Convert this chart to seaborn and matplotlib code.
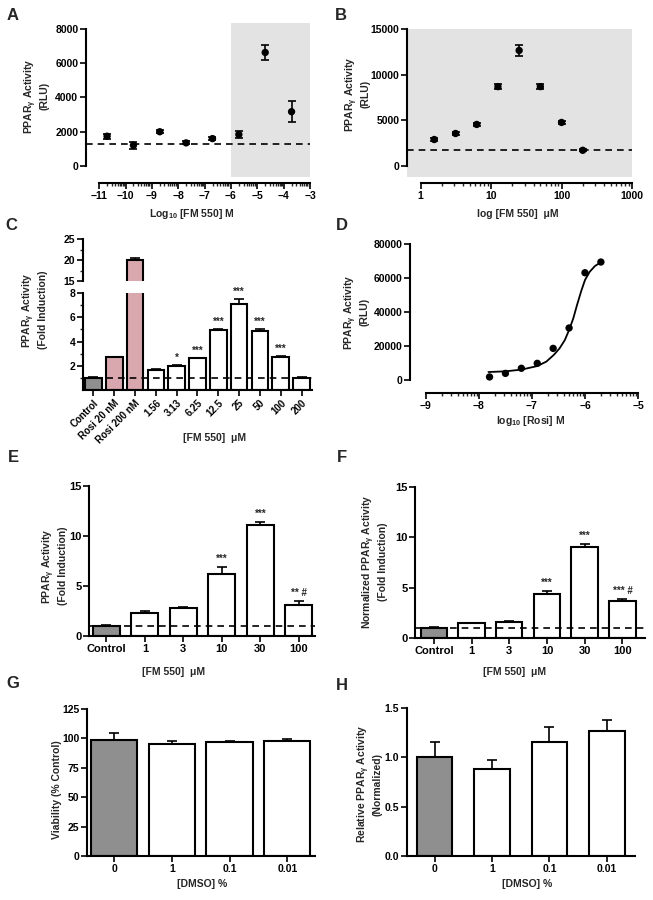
import numpy as np
import matplotlib
matplotlib.use('Agg')
import matplotlib.pyplot as plt
import seaborn as sns
from matplotlib.ticker import FixedLocator, NullFormatter

# ---- data ----
# A: log10 [FM 550] M vs RLU
a_logx = [-10.7, -9.7, -8.7, -7.7, -6.7, -5.7, -4.7, -3.7]
a_rlu = [1740, 1210, 2000, 1350, 1600, 1840, 6630, 3170]
a_err = [150, 220, 80, 90, 90, 200, 450, 600]
a_base = 1270

# B: [FM 550] uM (log axis) vs RLU
b_conc = [1.56, 3.13, 6.25, 12.5, 25, 50, 100, 200]
b_rlu = [2900, 3560, 4550, 8690, 12650, 8690, 4770, 1720]
b_err = [120, 120, 150, 300, 650, 250, 150, 120]
b_base = 1720

# C: fold induction, broken axis
c_cats = ["Control", "Rosi 20 nM", "Rosi 200 nM", "1.56", "3.13", "6.25",
          "12.5", "25", "50", "100", "200"]
c_vals = [1.0, 2.7, 20.0, 1.65, 2.0, 2.62, 4.95, 7.1, 4.9, 2.75, 1.0]
c_err = [0.05, 0.06, 0.5, 0.06, 0.05, 0.06, 0.12, 0.4, 0.12, 0.08, 0.04]
c_sig = ["", "", "", "", "*", "***", "***", "***", "***", "***", ""]

# D: rosiglitazone dose response
d_logx = [-7.8, -7.5, -7.2, -6.9, -6.6, -6.3, -6.0, -5.7]
d_rlu = [1800, 3900, 6900, 9800, 18600, 30600, 63100, 69400]
d_fit_x = [-7.82, -7.5, -7.2, -6.9, -6.73, -6.59, -6.48, -6.38, -6.3,
           -6.22, -6.15, -6.07, -6.0, -5.91, -5.81, -5.69]
d_fit_y = [4700, 5100, 6100, 8200, 10800, 14700, 18600, 23500, 29400,
           36300, 44100, 52400, 58800, 63700, 67100, 69400]

# E / F: FM 550 fold induction
ef_cats = ["Control", "1", "3", "10", "30", "100"]
e_vals = [1.0, 2.33, 2.77, 6.23, 11.07, 3.13]
e_err = [0.08, 0.15, 0.1, 0.7, 0.36, 0.37]
e_sig = ["", "", "", "***", "***", "** #"]
f_vals = [1.0, 1.46, 1.62, 4.4, 9.04, 3.64]
f_err = [0.08, 0.06, 0.05, 0.3, 0.3, 0.25]
f_sig = ["", "", "", "***", "***", "*** #"]

# G / H: DMSO controls
gh_cats = ["0", "1", "0.1", "0.01"]
g_vals = [98.8, 95.0, 97.0, 98.0]
g_err = [5.5, 2.5, 0.4, 1.5]
h_vals = [1.0, 0.877, 1.152, 1.268]
h_err = [0.16, 0.10, 0.16, 0.106]

GREY = "#8f8f8f"
PINK = "#d9a8ae"
SHADE = "#e3e3e3"

sns.set_theme(style="ticks")
plt.rcParams['font.family'] = ['Liberation Sans', 'DejaVu Sans']
plt.rcParams['font.weight'] = 'bold'
plt.rcParams['mathtext.default'] = 'regular'

W, H = 653, 900
fig = plt.figure(figsize=(W / 100, H / 100), dpi=100)


def add_ax(l, t, r, b):
    return fig.add_axes([l / W, 1 - b / H, (r - l) / W, (b - t) / H])


def ftext(x, y, s, **kw):
    fig.text(x / W, 1 - y / H, s, **kw)


def style(ax, fs=7.5):
    sns.despine(ax=ax)
    for s in ['left', 'bottom']:
        ax.spines[s].set_linewidth(1.5)
        ax.spines[s].set_color('black')
    ax.tick_params(direction='out', length=4, width=1.2, labelsize=fs,
                   pad=1.5, colors='black')
    ax.tick_params(which='minor', direction='out', length=2.5, width=1.0)
    ax.set_facecolor('none')
    ax.set_xlabel('')
    ax.set_ylabel('')


def bars(ax, cats, vals, errs, colors, width):
    sns.barplot(x=cats, y=vals, hue=cats, order=cats, hue_order=cats,
                palette=dict(zip(cats, colors)), legend=False, width=width,
                edgecolor='black', linewidth=1.5, saturation=1, ax=ax)
    ax.errorbar(range(len(cats)), vals, yerr=[np.zeros(len(vals)), errs],
                fmt='none', ecolor='black', elinewidth=1.2, capsize=3.5,
                capthick=1.2, zorder=3)


def stars(ax, vals, errs, sig, off, fs=7):
    for i, s in enumerate(sig):
        if s:
            ax.text(i, vals[i] + errs[i] + off, s, ha='center', va='bottom',
                    fontsize=fs, fontweight='bold')


def log_minor(ax, lo, hi):
    mins = [k + np.log10(m) for k in range(lo, hi) for m in range(2, 10)]
    ax.xaxis.set_minor_locator(FixedLocator(mins))


# ---- A ----
ax = add_ax(86, 23, 310, 183)
ax.axvspan(-6, -3, ymin=6 / 160, ymax=1, color=SHADE, lw=0, zorder=0)
ax.axhline(a_base, color='black', ls=(0, (4, 3)), lw=1.2, zorder=1)
ax.errorbar(a_logx, a_rlu, yerr=a_err, fmt='none', ecolor='black',
            elinewidth=1.2, capsize=3, capthick=1.2, zorder=2)
sns.scatterplot(x=a_logx, y=a_rlu, color='black', s=28, edgecolor='none',
                ax=ax, zorder=3)
ax.set_xlim(-11.5, -3.0)
ax.set_ylim(-993, 8350)
ax.set_xticks(range(-11, -2))
log_minor(ax, -11, -3)
ax.set_yticks([0, 2000, 4000, 6000, 8000])
ax.spines['left'].set_bounds(0, 8000)
ax.spines['bottom'].set_bounds(-11, -3)
style(ax)

# ---- B ----
ax = add_ax(407, 29, 632, 183)
ax.set_xscale('log')
ax.axvspan(0.64, 1000, ymin=6 / 154, ymax=1, color=SHADE, lw=0, zorder=0)
ax.axhline(b_base, color='black', ls=(0, (4, 3)), lw=1.2, zorder=1)
ax.errorbar(b_conc, b_rlu, yerr=b_err, fmt='none', ecolor='black',
            elinewidth=1.2, capsize=3, capthick=1.2, zorder=2)
sns.scatterplot(x=b_conc, y=b_rlu, color='black', s=28, edgecolor='none',
                ax=ax, zorder=3)
ax.set_xlim(0.64, 1000)
ax.set_ylim(-1861, 15000)
ax.set_xticks([1, 10, 100, 1000])
ax.set_xticklabels(['1', '10', '100', '1000'])
ax.xaxis.set_minor_locator(FixedLocator(
    [m * 10 ** k for k in range(0, 3) for m in range(2, 10)]))
ax.xaxis.set_minor_formatter(NullFormatter())
ax.set_yticks([0, 5000, 10000, 15000])
ax.spines['left'].set_bounds(0, 15000)
ax.spines['bottom'].set_bounds(1, 1000)
style(ax)

# ---- C (broken axis) ----
c_cols = [GREY, PINK, PINK] + ['white'] * 8
axu = add_ax(83, 239, 312, 281)
bars(axu, c_cats, c_vals, c_err, c_cols, 0.8)
axu.set_ylim(15, 25)
axu.set_xlim(-0.5, 10.5)
axu.set_yticks([15, 20, 25])
axu.yaxis.set_minor_locator(FixedLocator([17.5, 22.5]))
style(axu)
axu.spines['bottom'].set_visible(False)
axu.set_xticks([])

axl = add_ax(83, 293, 312, 390)
bars(axl, c_cats, c_vals, c_err, c_cols, 0.8)
axl.axhline(1.0, color='black', ls=(0, (4, 3)), lw=1.2, zorder=4)
stars(axl, c_vals, c_err, c_sig, 0.15)
axl.set_ylim(0, 8)
axl.set_xlim(-0.5, 10.5)
axl.set_yticks([2, 4, 6, 8])
axl.yaxis.set_minor_locator(FixedLocator([1, 3, 5, 7]))
style(axl)
axl.set_xticks(range(len(c_cats)))
axl.set_xticklabels(c_cats, rotation=45, ha='right', rotation_mode='anchor',
                    fontsize=7)

# ---- D ----
ax = add_ax(410, 244, 638, 393)
sns.lineplot(x=d_fit_x, y=d_fit_y, color='black', lw=1.3, ax=ax, sort=False)
sns.scatterplot(x=d_logx, y=d_rlu, color='black', s=28, edgecolor='none',
                ax=ax, zorder=3)
ax.set_xlim(-9.3, -5.0)
ax.set_ylim(-7640, 80000)
ax.set_xticks(range(-9, -4))
log_minor(ax, -9, -5)
ax.set_yticks([0, 20000, 40000, 60000, 80000])
ax.spines['left'].set_bounds(0, 80000)
ax.spines['bottom'].set_bounds(-9, -5)
style(ax)

# ---- E ----
ef_cols = [GREY] + ['white'] * 5
ax = add_ax(89, 486, 315, 636)
bars(ax, ef_cats, e_vals, e_err, ef_cols, 0.7)
ax.axhline(1.0, color='black', ls=(0, (4, 3)), lw=1.2, zorder=4)
stars(ax, e_vals, e_err, e_sig, 0.3)
ax.set_ylim(0, 15)
ax.set_xlim(-0.45, 5.42)
ax.set_yticks([0, 5, 10, 15])
style(ax, 8)

# ---- F ----
ax = add_ax(415, 487, 645, 638)
bars(ax, ef_cats, f_vals, f_err, ef_cols, 0.7)
ax.axhline(1.0, color='black', ls=(0, (4, 3)), lw=1.2, zorder=4)
stars(ax, f_vals, f_err, f_sig, 0.3)
ax.set_ylim(0, 15)
ax.set_xlim(-0.5, 5.6)
ax.set_yticks([0, 5, 10, 15])
style(ax, 8)

# ---- G ----
gh_cols = [GREY] + ['white'] * 3
ax = add_ax(87, 709, 315, 856)
bars(ax, gh_cats, g_vals, g_err, gh_cols, 0.8)
ax.set_ylim(0, 125)
ax.set_xlim(-0.47, 3.48)
ax.set_yticks([0, 25, 50, 75, 100, 125])
style(ax, 7.5)

# ---- H ----
ax = add_ax(407, 708, 635, 856)
bars(ax, gh_cats, h_vals, h_err, gh_cols, 0.62)
ax.set_ylim(0, 1.5)
ax.set_xlim(-0.48, 3.49)
ax.set_yticks([0, 0.5, 1.0, 1.5])
ax.set_yticklabels(['0.0', '0.5', '1.0', '1.5'])
style(ax, 7.5)

# ---- labels ----
lab = dict(fontsize=7.5, fontweight='bold', ha='center', va='center')
ylab = dict(fontsize=7.5, fontweight='bold', ha='center', va='center',
            rotation=90, multialignment='center', linespacing=1.15)
pparg = r"PPAR$_{\gamma}$"

ftext(192, 214, r"Log$_{10}$ [FM 550] M", **lab)
ftext(518, 214, "log [FM 550]  μM", **lab)
ftext(215, 438, "[FM 550]  μM", **lab)
ftext(531, 421, r"log$_{10}$ [Rosi] M", **lab)
ftext(174, 672, "[FM 550]  μM", **lab)
ftext(515, 672, "[FM 550]  μM", **lab)
ftext(202, 884, "[DMSO] %", **lab)
ftext(527, 884, "[DMSO] %", **lab)

ftext(36, 96, pparg + " Activity\n(RLU)", **ylab)
ftext(357, 94, pparg + " Activity\n(RLU)", **ylab)
ftext(34, 310, pparg + " Activity\n(Fold Induction)", **ylab)
ftext(356, 312, pparg + " Activity\n(RLU)", **ylab)
ftext(54, 566, pparg + " Activity\n(Fold Induction)", **ylab)
ftext(374, 562, "Normalized " + pparg + " Activity\n(Fold Induction)", **ylab)
ftext(57, 790, "Viability (% Control)", **ylab)
ftext(369, 784, "Relative " + pparg + " Activity\n(Normalized)", **ylab)

for letter, x, y in [("A", 13, 15), ("B", 341, 15), ("C", 11, 226),
                     ("D", 342, 226), ("E", 13, 457), ("F", 342, 457),
                     ("G", 13, 683), ("H", 342, 685)]:
    ftext(x, y, letter, fontsize=12, fontweight='bold', ha='center',
          va='center')

fig.savefig("out.png", dpi=100)
